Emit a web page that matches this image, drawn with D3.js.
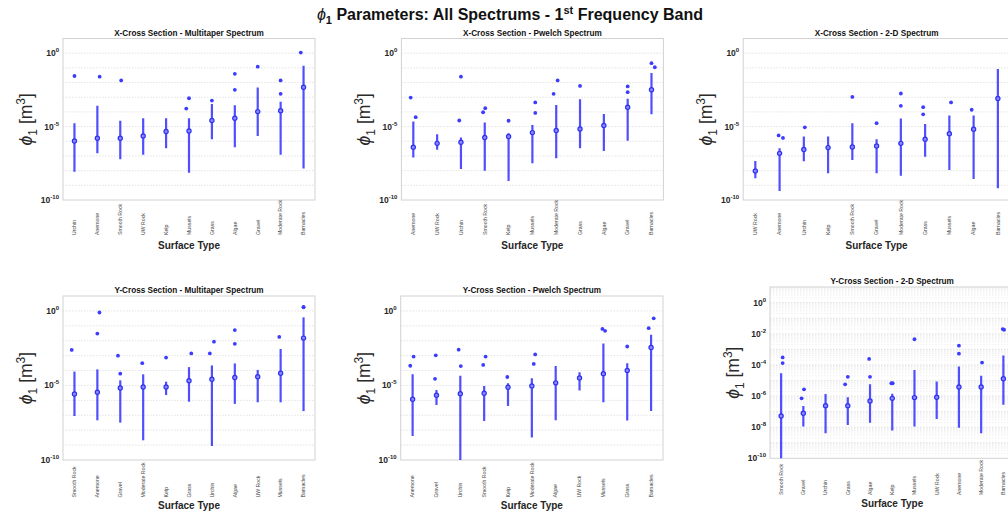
<!DOCTYPE html>
<html>
<head>
<meta charset="utf-8">
<script src="https://cdn.jsdelivr.net/npm/d3@7"></script>
<style>
  body { margin: 0; background: #fff; }
  svg { display: block; font-family: "Liberation Sans", Arial, sans-serif; }
</style>
</head>
<body>
<svg width="1008" height="514"></svg>
<script>
// ---- data: median, whisker low / high, outliers as [value, jitter] ----
const xMtCats = ["Urchin", "Anemone", "Smooth Rock", "UW Rock", "Kelp", "Mussels", "Grass", "Algae", "Gravel", "Moderate Rock", "Barnacles"];
const xMtMed = [1.05e-6, 1.6e-6, 1.6e-6, 2.3e-6, 4.6e-6, 5.0e-6, 2.6e-5, 3.7e-5, 1.05e-4, 1.2e-4, 4.8e-3];
const xMtLo = [8.5e-9, 1.5e-7, 5.9e-8, 1.2e-7, 3.3e-7, 7.2e-9, 1.4e-6, 3.9e-7, 2.3e-6, 1.2e-7, 1.4e-8];
const xMtHi = [1.7e-5, 2.6e-4, 2.5e-5, 3.7e-5, 3.7e-5, 3.7e-5, 3.5e-4, 2.8e-4, 4.6e-3, 5.0e-4, 0.14];
const xMtOut = [[[2.8e-2, 0]], [[2.5e-2, 0.1]], [[1.4e-2, 0.04]], [], [], [[8.5e-4, 0], [1.7e-4, -0.12]],
  [[5.9e-4, 0]], [[3.2e-3, 0], [3.9e-2, 0]], [[0.12, 0]], [[1.7e-3, 0], [1.4e-2, 0]], [[1.1, -0.12]]];

const xPwCats = ["Anemone", "UW Rock", "Urchin", "Smooth Rock", "Kelp", "Mussels", "Moderate Rock", "Grass", "Algae", "Gravel", "Barnacles"];
const xPwMed = [3.9e-7, 7.2e-7, 8.5e-7, 1.8e-6, 2.1e-6, 3.9e-6, 5.4e-6, 6.9e-6, 1.2e-5, 2.1e-4, 3.2e-3];
const xPwLo = [7.8e-8, 2.6e-7, 1.3e-8, 1.0e-8, 2.0e-9, 3.2e-8, 6.9e-8, 3.3e-7, 2.2e-7, 1.1e-6, 6.9e-5];
const xPwHi = [2.2e-5, 3.0e-6, 1.8e-6, 1.9e-5, 3.5e-6, 1.3e-5, 3.0e-4, 7.2e-4, 7.2e-5, 7.8e-4, 4.4e-2];
const xPwOut = [[[9.5e-4, -0.11], [4.4e-5, 0.1]], [], [[2.6e-5, -0.07], [2.5e-2, 0]], [[1.8e-4, 0.02], [9.5e-5, -0.07]],
  [[2.5e-5, 0]], [[4.4e-4, 0.12], [8.5e-5, 0.12]], [[1.7e-3, -0.11], [1.4e-2, 0.06]], [[5.9e-3, 0]], [],
  [[5.4e-3, 0], [2.2e-3, 0]], [[0.21, 0], [0.11, 0.14]]];

const x2dCats = ["UW Rock", "Anemone", "Urchin", "Kelp", "Smooth Rock", "Gravel", "Moderate Rock", "Grass", "Mussels", "Algae", "Barnacles"];
const x2dMed = [9.5e-9, 1.5e-7, 2.8e-7, 3.7e-7, 4.1e-7, 4.8e-7, 7.2e-7, 1.4e-6, 3.3e-6, 6.6e-6, 8.1e-4];
const x2dLo = [3.0e-9, 4.1e-10, 4.4e-8, 6.6e-9, 5.4e-8, 6.6e-9, 4.4e-9, 8.9e-8, 1.1e-8, 2.7e-9, 6.3e-10];
const x2dHi = [4.6e-8, 3.3e-7, 2.1e-6, 2.1e-6, 1.7e-5, 1.4e-6, 3.5e-5, 1.5e-5, 5.6e-5, 5.6e-5, 8.5e-2];
const x2dOut = [[], [[2.5e-6, -0.04], [1.7e-6, 0.14]], [[8.9e-6, 0.04]], [], [[1.05e-3, 0]], [[1.7e-5, 0]],
  [[2.6e-4, 0], [1.8e-3, 0]], [[2.1e-4, -0.08], [6.9e-5, -0.08]], [[4.4e-4, 0.07]], [[1.4e-4, -0.08]], []];

const yMtCats = ["Smooth Rock", "Anemone", "Gravel", "Moderate Rock", "Kelp", "Grass", "Urchin", "Algae", "UW Rock", "Mussels", "Barnacles"];
const yMtMed = [2.7e-6, 3.5e-6, 6.8e-6, 7.9e-6, 7.9e-6, 2.1e-5, 2.6e-5, 3.4e-5, 3.9e-5, 6.6e-5, 1.5e-2];
const yMtLo = [8.9e-8, 4.6e-8, 3.2e-8, 2.1e-9, 2.3e-6, 8.1e-7, 8.7e-10, 5.8e-7, 7.4e-7, 7.4e-7, 1.9e-7];
const yMtHi = [8.5e-5, 1.2e-4, 2.2e-5, 5.6e-5, 1.8e-5, 1.7e-4, 2.2e-4, 3.0e-4, 1.1e-4, 2.8e-3, 0.37];
const yMtOut = [[[2.4e-3, -0.12]], [[3.0e-2, 0], [0.78, 0.09]], [[1.0e-3, -0.1], [6.2e-5, 0]], [[3.1e-4, -0.04]],
  [[7.4e-4, 0]], [[1.4e-3, 0.1]], [[1.4e-3, -0.09], [8.7e-3, 0.09]], [[5.2e-2, 0], [6.2e-3, 0]], [],
  [[1.8e-2, -0.06]], [[1.86, 0], [1.74, 0]]];

const yPwCats = ["Anemone", "Gravel", "Urchin", "Smooth Rock", "Kelp", "Moderate Rock", "Algae", "UW Rock", "Mussels", "Grass", "Barnacles"];
const yPwMed = [1.2e-6, 2.2e-6, 2.8e-6, 3.0e-6, 7.6e-6, 9.3e-6, 1.5e-5, 3.2e-5, 6.2e-5, 1.0e-4, 3.5e-3];
const yPwLo = [4.1e-9, 4.9e-7, 5e-11, 4.2e-8, 4.2e-7, 3.2e-9, 4.6e-8, 4.5e-6, 7.4e-7, 4.4e-8, 1.9e-7];
const yPwHi = [5.6e-5, 5.0e-6, 4.4e-5, 9.3e-6, 1.4e-5, 3.0e-5, 2.0e-4, 7.6e-5, 6.5e-3, 3.1e-4, 2.5e-2];
const yPwOut = [[[2.1e-4, -0.1], [8.7e-4, 0.04]], [[2.8e-5, -0.06], [1.05e-3, -0.03]], [[2.0e-4, 0.02], [2.5e-3, -0.07]],
  [[2.4e-4, -0.04], [8.7e-4, 0.06]], [[3.7e-5, -0.03]], [[2.8e-4, 0.08], [1.2e-3, 0.14]], [], [],
  [[6.2e-2, -0.04], [4.6e-2, 0.07]], [[4.1e-3, 0]], [[6.9e-2, -0.1], [0.32, 0.11]]];

const y2dCats = ["Smooth Rock", "Gravel", "Urchin", "Grass", "Algae", "Kelp", "Mussels", "UW Rock", "Anemone", "Moderate Rock", "Barnacles"];
const y2dMed = [5.2e-8, 7.8e-8, 2.4e-7, 2.4e-7, 4.8e-7, 7.1e-7, 7.9e-7, 8.3e-7, 3.8e-6, 3.8e-6, 1.3e-5];
const y2dLo = [5e-11, 1.1e-8, 4.1e-9, 1.4e-8, 1.9e-8, 6.0e-9, 1.1e-8, 3.4e-8, 9.3e-9, 4.1e-9, 2.7e-7];
const y2dHi = [2.9e-5, 2.3e-7, 1.35e-6, 8.3e-7, 5.6e-6, 1.4e-6, 4.7e-5, 8.5e-6, 7.8e-5, 2.0e-5, 4.0e-4];
const y2dOut = [[[1.3e-4, 0.07], [3.0e-4, 0.07]], [[7.1e-7, -0.08], [2.7e-6, 0.03]], [], [[5.6e-6, -0.12], [1.7e-5, 0]],
  [[1.7e-5, 0], [2.4e-4, -0.04]], [[6.6e-6, -0.04], [6.6e-6, 0.02]], [[4.4e-3, 0]], [],
  [[5.2e-4, 0], [1.7e-3, 0]], [[1.4e-4, 0.04]], [[2.0e-2, -0.03], [1.8e-2, 0.03]]];

const ticksA = [1, 1e-5, 1e-10];
const ticksB = [1, 1e-2, 1e-4, 1e-6, 1e-8, 1e-10];

const blue = "#3c3cff";
const svg = d3.select("svg");

const panels = [
  {title: "X-Cross Section - Multitaper Spectrum", cats: xMtCats, med: xMtMed, lo: xMtLo, hi: xMtHi, out: xMtOut,
   left: 63, right: 315, top: 38.5, bottom: 200, titleY: 35.5, labY: 235, xTitleY: 248.5, ticks: ticksA, minor: false},
  {title: "X-Cross Section - Pwelch Spectrum", cats: xPwCats, med: xPwMed, lo: xPwLo, hi: xPwHi, out: xPwOut,
   left: 401.4, right: 663.4, top: 38.5, bottom: 200, titleY: 35.5, labY: 235, xTitleY: 248.5, ticks: ticksA, minor: false},
  {title: "X-Cross Section - 2-D Spectrum", cats: x2dCats, med: x2dMed, lo: x2dLo, hi: x2dHi, out: x2dOut,
   left: 743.2, right: 1010, top: 38.5, bottom: 200, titleY: 35.5, labY: 235, xTitleY: 248.5, ticks: ticksA, minor: false},
  {title: "Y-Cross Section - Multitaper Spectrum", cats: yMtCats, med: yMtMed, lo: yMtLo, hi: yMtHi, out: yMtOut,
   left: 63, right: 315, top: 296, bottom: 460, titleY: 293, labY: 497.5, xTitleY: 508.5, ticks: ticksA, minor: false},
  {title: "Y-Cross Section - Pwelch Spectrum", cats: yPwCats, med: yPwMed, lo: yPwLo, hi: yPwHi, out: yPwOut,
   left: 400.7, right: 663, top: 296, bottom: 460, titleY: 293, labY: 497.5, xTitleY: 508.5, ticks: ticksA, minor: false},
  {title: "Y-Cross Section - 2-D Spectrum", cats: y2dCats, med: y2dMed, lo: y2dLo, hi: y2dHi, out: y2dOut,
   left: 770, right: 1014.5, top: 287, bottom: 458.3, titleY: 283.5, labY: 495, xTitleY: 506.5, ticks: ticksB, minor: true}
];

// main title
const mt = svg.append("text")
    .attr("x", 510).attr("y", 19.5)
    .attr("text-anchor", "middle")
    .attr("font-size", 16).attr("font-weight", "bold").attr("fill", "#111");
mt.append("tspan").attr("font-style", "italic").attr("font-weight", "normal").text("ϕ");
mt.append("tspan").attr("dy", 4).attr("font-size", 11).text("1");
mt.append("tspan").attr("dy", -4).text(" Parameters: All Spectrums - 1");
mt.append("tspan").attr("dy", -6).attr("font-size", 11).text("st");
mt.append("tspan").attr("dy", 6).text(" Frequency Band");

panels.forEach((p, pi) => drawPanel(p, pi));

function drawPanel(p, pi) {
    let g = svg.append("g");
    let x = d3.scalePoint().domain(p.cats).range([p.left, p.right]).padding(0.5);
    let step = x.step();
    let y = d3.scaleLog().domain([1e-10, 10]).range([p.bottom, p.top]);

    g.append("clipPath").attr("id", "clip" + pi)
        .append("rect")
        .attr("x", p.left).attr("y", p.top)
        .attr("width", p.right - p.left).attr("height", p.bottom - p.top);

    // grid
    let gridVals = [];
    for (let e = -10; e <= 0; e++) {
        if (e > -10) gridVals.push({v: Math.pow(10, e), major: true});
        if (p.minor) {
            for (let m = 2; m <= 9; m++) gridVals.push({v: m * Math.pow(10, e), major: false});
        }
    }
    g.append("g").selectAll("line")
        .data(gridVals)
        .join("line")
        .attr("x1", p.left).attr("x2", p.right)
        .attr("y1", d => y(d.v)).attr("y2", d => y(d.v))
        .attr("stroke", d => d.major ? "#dcdcdc" : "#ececec")
        .attr("stroke-width", 0.8)
        .attr("stroke-dasharray", "1.5,1.5");

    // box
    g.append("rect")
        .attr("x", p.left).attr("y", p.top)
        .attr("width", p.right - p.left).attr("height", p.bottom - p.top)
        .attr("fill", "none").attr("stroke", "#d2d2d2").attr("stroke-width", 1);

    // y tick labels
    let tl = g.append("g").selectAll("text")
        .data(p.ticks)
        .join("text")
        .attr("x", p.left - 4).attr("y", d => y(d) + 3)
        .attr("text-anchor", "end")
        .attr("font-size", 8.5).attr("font-weight", "bold").attr("fill", "#262626");
    tl.append("tspan").text("10");
    tl.append("tspan").attr("dy", -4).attr("font-size", 6).text(d => Math.round(Math.log10(d)));

    // y label
    let yl = g.append("text")
        .attr("transform", "translate(" + (p.left - 31) + "," + ((p.top + p.bottom) / 2) + ") rotate(-90)")
        .attr("text-anchor", "middle")
        .attr("font-size", 17.5).attr("fill", "#2a2a2a");
    yl.append("tspan").attr("font-style", "italic").text("ϕ");
    yl.append("tspan").attr("dy", 5).attr("font-size", 12).text("1");
    yl.append("tspan").attr("dy", -5).text(" [m");
    yl.append("tspan").attr("dy", -7).attr("font-size", 12).text("3");
    yl.append("tspan").attr("dy", 7).text("]");

    // title
    g.append("text")
        .attr("x", (p.left + p.right) / 2).attr("y", p.titleY)
        .attr("text-anchor", "middle")
        .attr("font-size", 8.2).attr("font-weight", "bold").attr("fill", "#111")
        .text(p.title);

    // category labels
    g.append("g").selectAll("text")
        .data(p.cats)
        .join("text")
        .attr("transform", d => "translate(" + (x(d) + 1.8) + "," + p.labY + ") rotate(-90)")
        .attr("text-anchor", "start")
        .attr("font-size", 5.2).attr("fill", "#444")
        .text(d => d);

    g.append("text")
        .attr("x", (p.left + p.right) / 2).attr("y", p.xTitleY)
        .attr("text-anchor", "middle")
        .attr("font-size", 10).attr("font-weight", "bold").attr("fill", "#262626")
        .text("Surface Type");

    // marks
    let marks = g.append("g").attr("clip-path", "url(#clip" + pi + ")");
    let rows = p.cats.map((c, i) => ({cat: c, med: p.med[i], lo: p.lo[i], hi: p.hi[i], out: p.out[i]}));

    marks.selectAll("line.whisker")
        .data(rows)
        .join("line")
        .classed("whisker", true)
        .attr("x1", d => x(d.cat)).attr("x2", d => x(d.cat))
        .attr("y1", d => y(d.lo)).attr("y2", d => y(d.hi))
        .attr("stroke", blue).attr("stroke-width", 2.2).attr("stroke-opacity", 0.9);

    marks.selectAll("circle.median")
        .data(rows)
        .join("circle")
        .classed("median", true)
        .attr("cx", d => x(d.cat)).attr("cy", d => y(d.med))
        .attr("r", 2.1)
        .attr("fill", "#8a8aff").attr("stroke", "#3030f0").attr("stroke-width", 1.2);

    let outs = [];
    rows.forEach(r => r.out.forEach(o => outs.push({cat: r.cat, v: o[0], j: o[1]})));
    marks.selectAll("circle.outlier")
        .data(outs)
        .join("circle")
        .classed("outlier", true)
        .attr("cx", d => x(d.cat) + d.j * step).attr("cy", d => y(d.v))
        .attr("r", 1.9)
        .attr("fill", blue);
}
</script>
</body>
</html>
